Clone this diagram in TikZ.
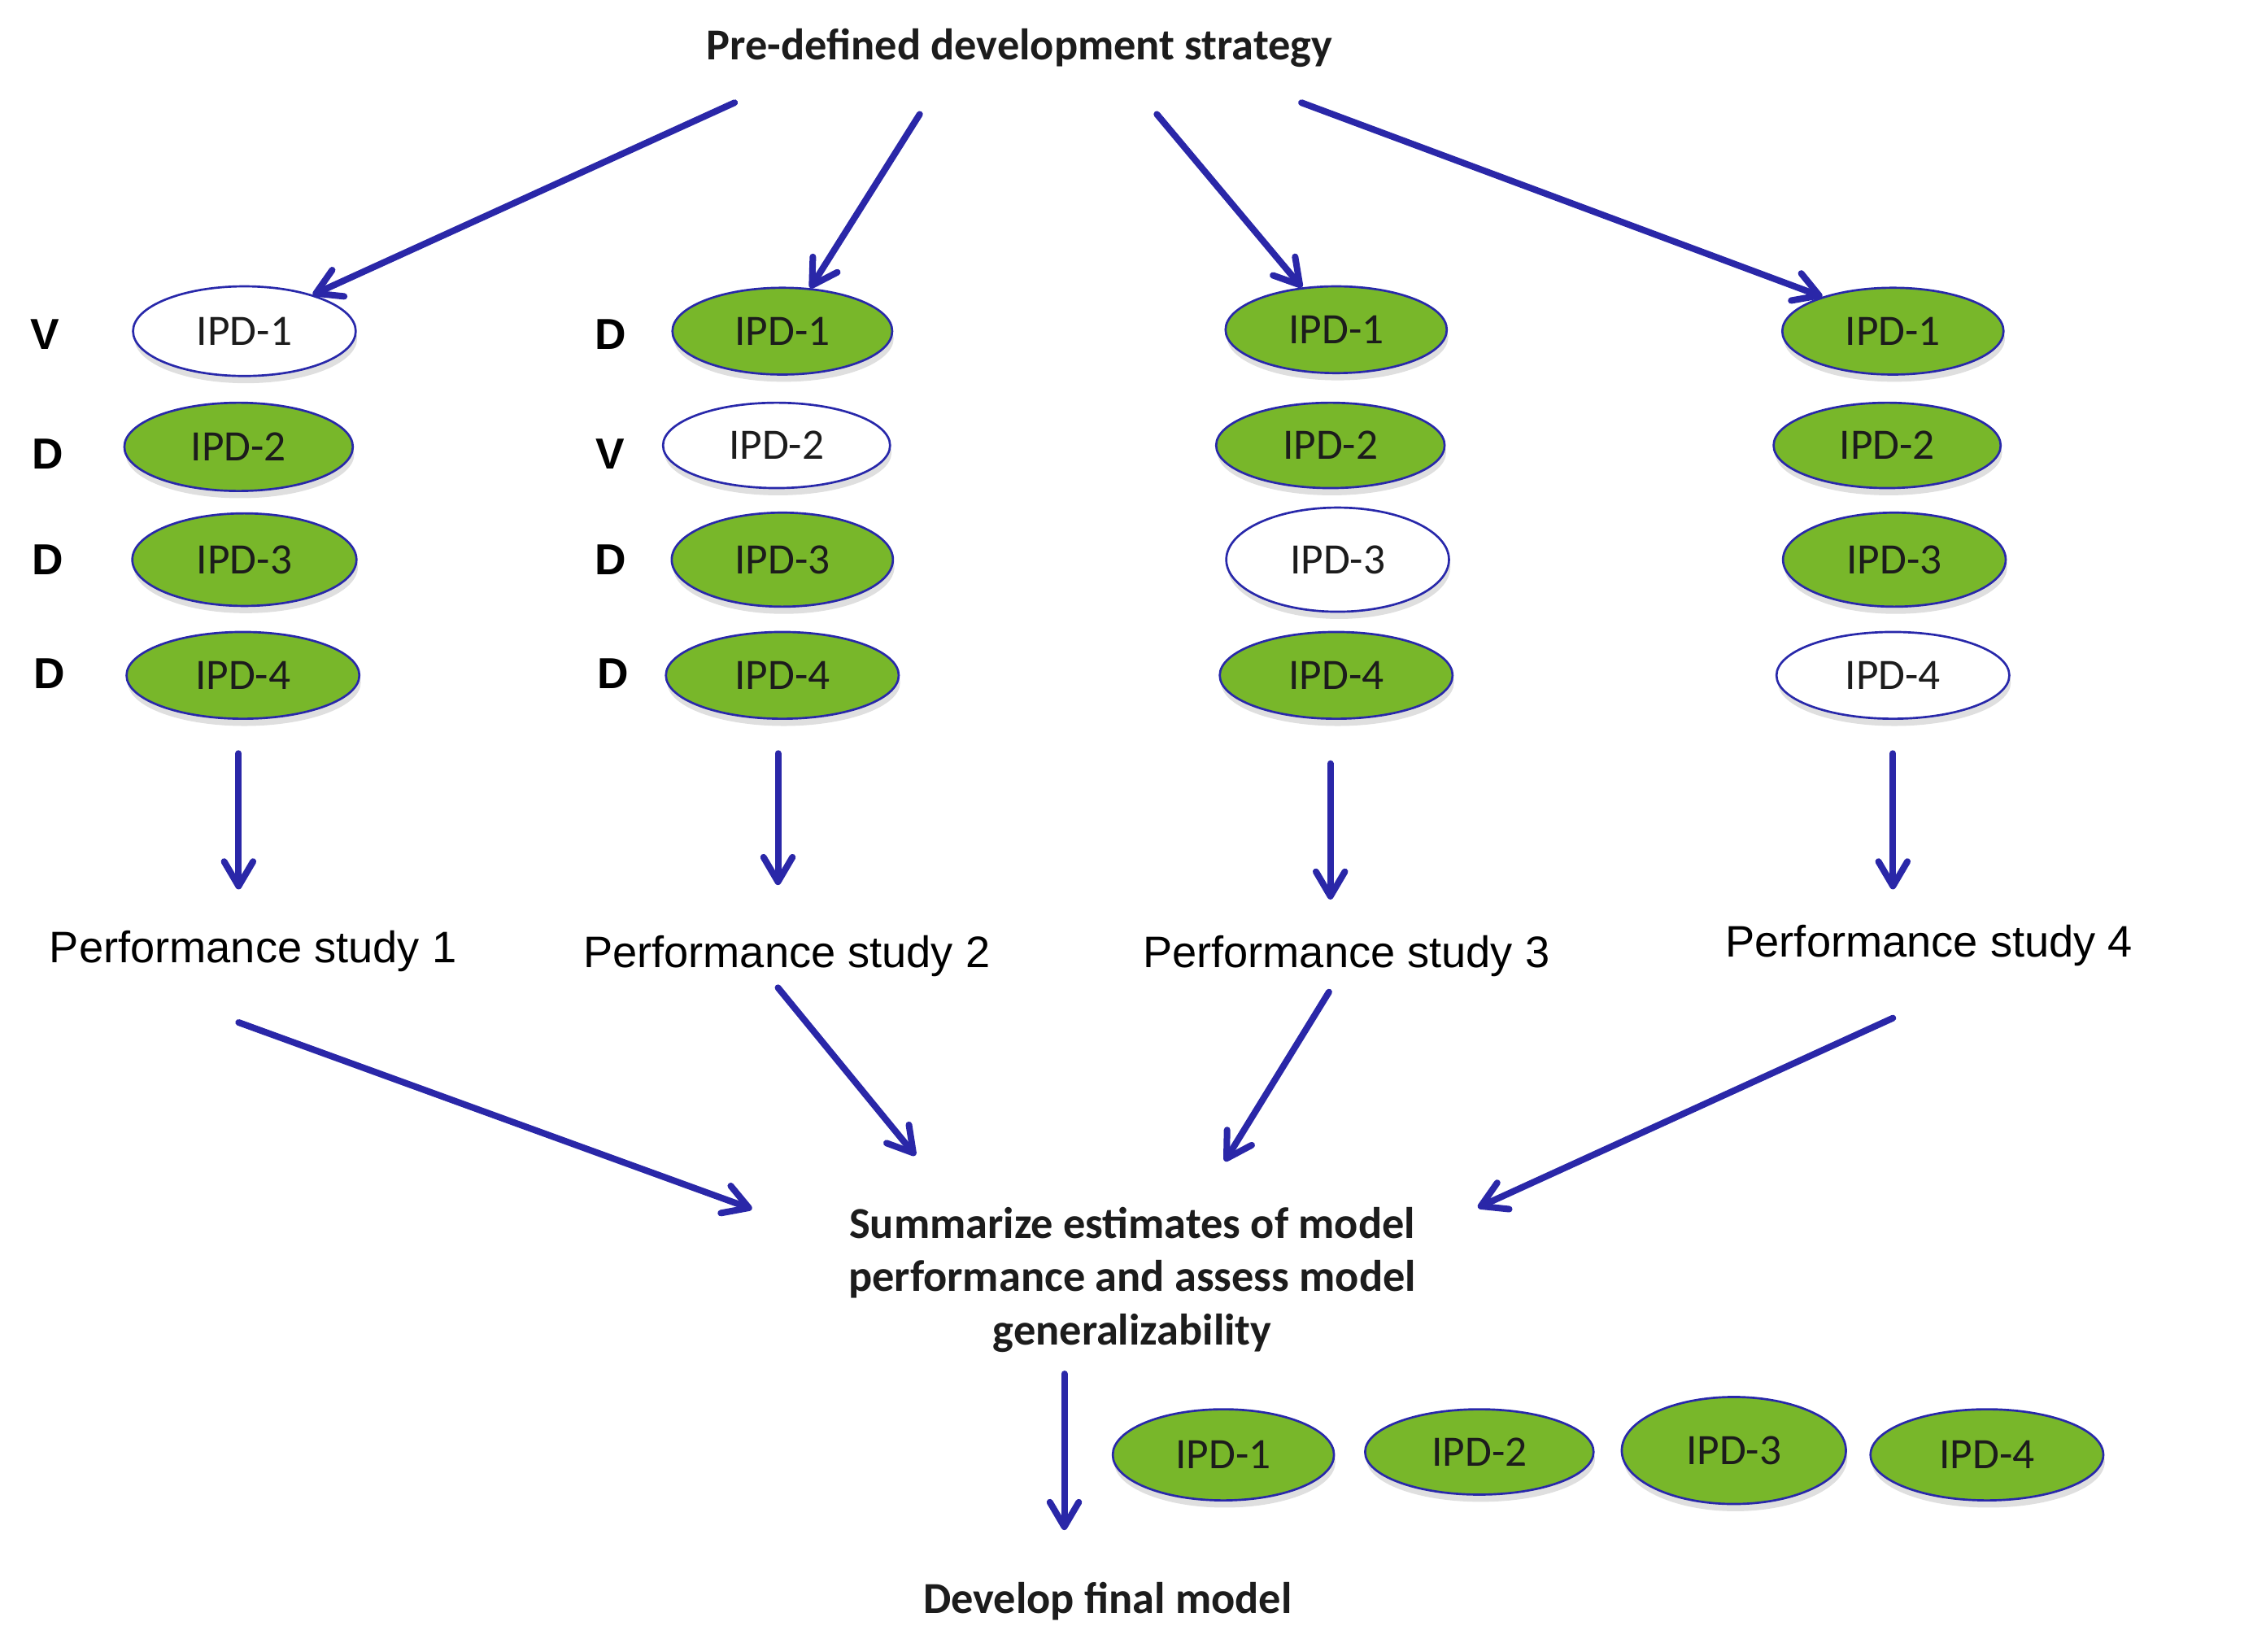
\documentclass[tikz,border=0pt]{standalone}
\usepackage{fontspec}
\setmainfont{Carlito}
\newfontfamily\arialf{Liberation Sans}
\usetikzlibrary{shapes.geometric,arrows.meta,shadows}
\definecolor{arrblue}{RGB}{42,39,168}
\definecolor{ipdgreen}{RGB}{120,183,42}
\definecolor{edgeblue}{RGB}{40,40,170}
\definecolor{txt}{RGB}{28,28,28}
\begin{document}
\begin{tikzpicture}[x=1pt,y=-1pt,
 ipd/.style={ellipse, draw=edgeblue, line width=1.5pt, inner sep=0pt,
   font=\fontsize{30}{36}\selectfont, text=txt,
   drop shadow={shadow xshift=1pt, shadow yshift=-5pt, opacity=0.18, fill=black!70}},
 grn/.style={ipd, fill=ipdgreen},
 wht/.style={ipd, fill=white},
 sz/.style 2 args={minimum width=#1pt, minimum height=#2pt},
 arr/.style={draw=arrblue, line width=4.5pt, line cap=round,
   -{Straight Barb[length=17pt,width=20pt,line cap=round,line join=round]}},
 lab/.style={font=\arialf\bfseries\fontsize{30}{36}\selectfont, text=black, inner sep=0pt},
 perf/.style={font=\arialf\fontsize{30.5}{36}\selectfont, text=black, inner sep=0pt},
 head/.style={font=\bfseries\fontsize{30.6}{37}\selectfont, text=txt, inner sep=0pt, align=center}
]
\useasboundingbox (0,0) rectangle (1567,1142);

% title
\node[head] (title) at (705,33) {Pre-defined development strategy};

% column 1
\node[wht, sz={154}{62}] (c1a) at (169,229) {IPD-1};
\node[grn, sz={158}{61}] (c1b) at (165,309) {IPD-2};
\node[grn, sz={155}{64}] (c1c) at (169,387) {IPD-3};
\node[grn, sz={161}{60}] (c1d) at (168,467) {IPD-4};
\node[lab] (l1a) at (31,231) {V};
\node[lab] (l1b) at (33,314) {D};
\node[lab] (l1c) at (33,387) {D};
\node[lab] (l1d) at (34,466) {D};

% column 2
\node[grn, sz={152}{60}] (c2a) at (541,229) {IPD-1};
\node[wht, sz={157}{59}] (c2b) at (537,308) {IPD-2};
\node[grn, sz={153}{65}] (c2c) at (541,387) {IPD-3};
\node[grn, sz={161}{60}] (c2d) at (541,467) {IPD-4};
\node[lab] (l2a) at (422,231) {D};
\node[lab] (l2b) at (422,314) {V};
\node[lab] (l2c) at (422,387) {D};
\node[lab] (l2d) at (424,466) {D};

% column 3
\node[grn, sz={153}{60}] (c3a) at (924,228) {IPD-1};
\node[grn, sz={158}{59}] (c3b) at (920,308) {IPD-2};
\node[wht, sz={154}{72}] (c3c) at (925,387) {IPD-3};
\node[grn, sz={161}{60}] (c3d) at (924,467) {IPD-4};

% column 4
\node[grn, sz={153}{60}] (c4a) at (1309,229) {IPD-1};
\node[grn, sz={157}{59}] (c4b) at (1305,308) {IPD-2};
\node[grn, sz={154}{65}] (c4c) at (1310,387) {IPD-3};
\node[wht, sz={161}{60}] (c4d) at (1309,467) {IPD-4};

% performance studies
\node[perf] (p1) at (175,658) {Performance study 1};
\node[perf] (p2) at (544,661) {Performance study 2};
\node[perf] (p3) at (931,661) {Performance study 3};
\node[perf] (p4) at (1334,654) {Performance study 4};

% summary
\node[head] (sum) at (783,885) {Summarize estimates of model\\performance and assess model\\generalizability};
\node[head] (final) at (766,1107) {Develop final model};

% bottom row
\node[grn, sz={153}{63}] (f1) at (846,1006) {IPD-1};
\node[grn, sz={158}{59}] (f2) at (1023,1004) {IPD-2};
\node[grn, sz={155}{74}] (f3) at (1199,1003) {IPD-3};
\node[grn, sz={161}{63}] (f4) at (1374,1006) {IPD-4};

% arrow end points
\coordinate (t1) at (508,71);
\coordinate (t2) at (636,79);
\coordinate (t3) at (800,79);
\coordinate (t4) at (900,71);
\coordinate (d1s) at (165,521); \coordinate (d1e) at (165,615);
\coordinate (d2s) at (538,521); \coordinate (d2e) at (538,612);
\coordinate (d3s) at (920,528); \coordinate (d3e) at (920,622);
\coordinate (d4s) at (1309,521); \coordinate (d4e) at (1309,615);
\coordinate (g1s) at (165,707); \coordinate (g1e) at (520,836);
\coordinate (g2s) at (538,683); \coordinate (g2e) at (633,799);
\coordinate (g3s) at (919,686); \coordinate (g3e) at (847,803);
\coordinate (g4s) at (1309,704); \coordinate (g4e) at (1022,835);
\coordinate (fs) at (736,950); \coordinate (fe) at (736,1058);

% arrows
\draw[arr] (t1) -- (c1a.28);
\draw[arr] (t2) -- (c2a.57);
\draw[arr] (t3) -- (c3a.129);
\draw[arr] (t4) -- (c4a.154);
\draw[arr] (d1s) -- (d1e);
\draw[arr] (d2s) -- (d2e);
\draw[arr] (d3s) -- (d3e);
\draw[arr] (d4s) -- (d4e);
\draw[arr] (g1s) -- (g1e);
\draw[arr] (g2s) -- (g2e);
\draw[arr] (g3s) -- (g3e);
\draw[arr] (g4s) -- (g4e);
\draw[arr] (fs) -- (fe);
\end{tikzpicture}
\end{document}
